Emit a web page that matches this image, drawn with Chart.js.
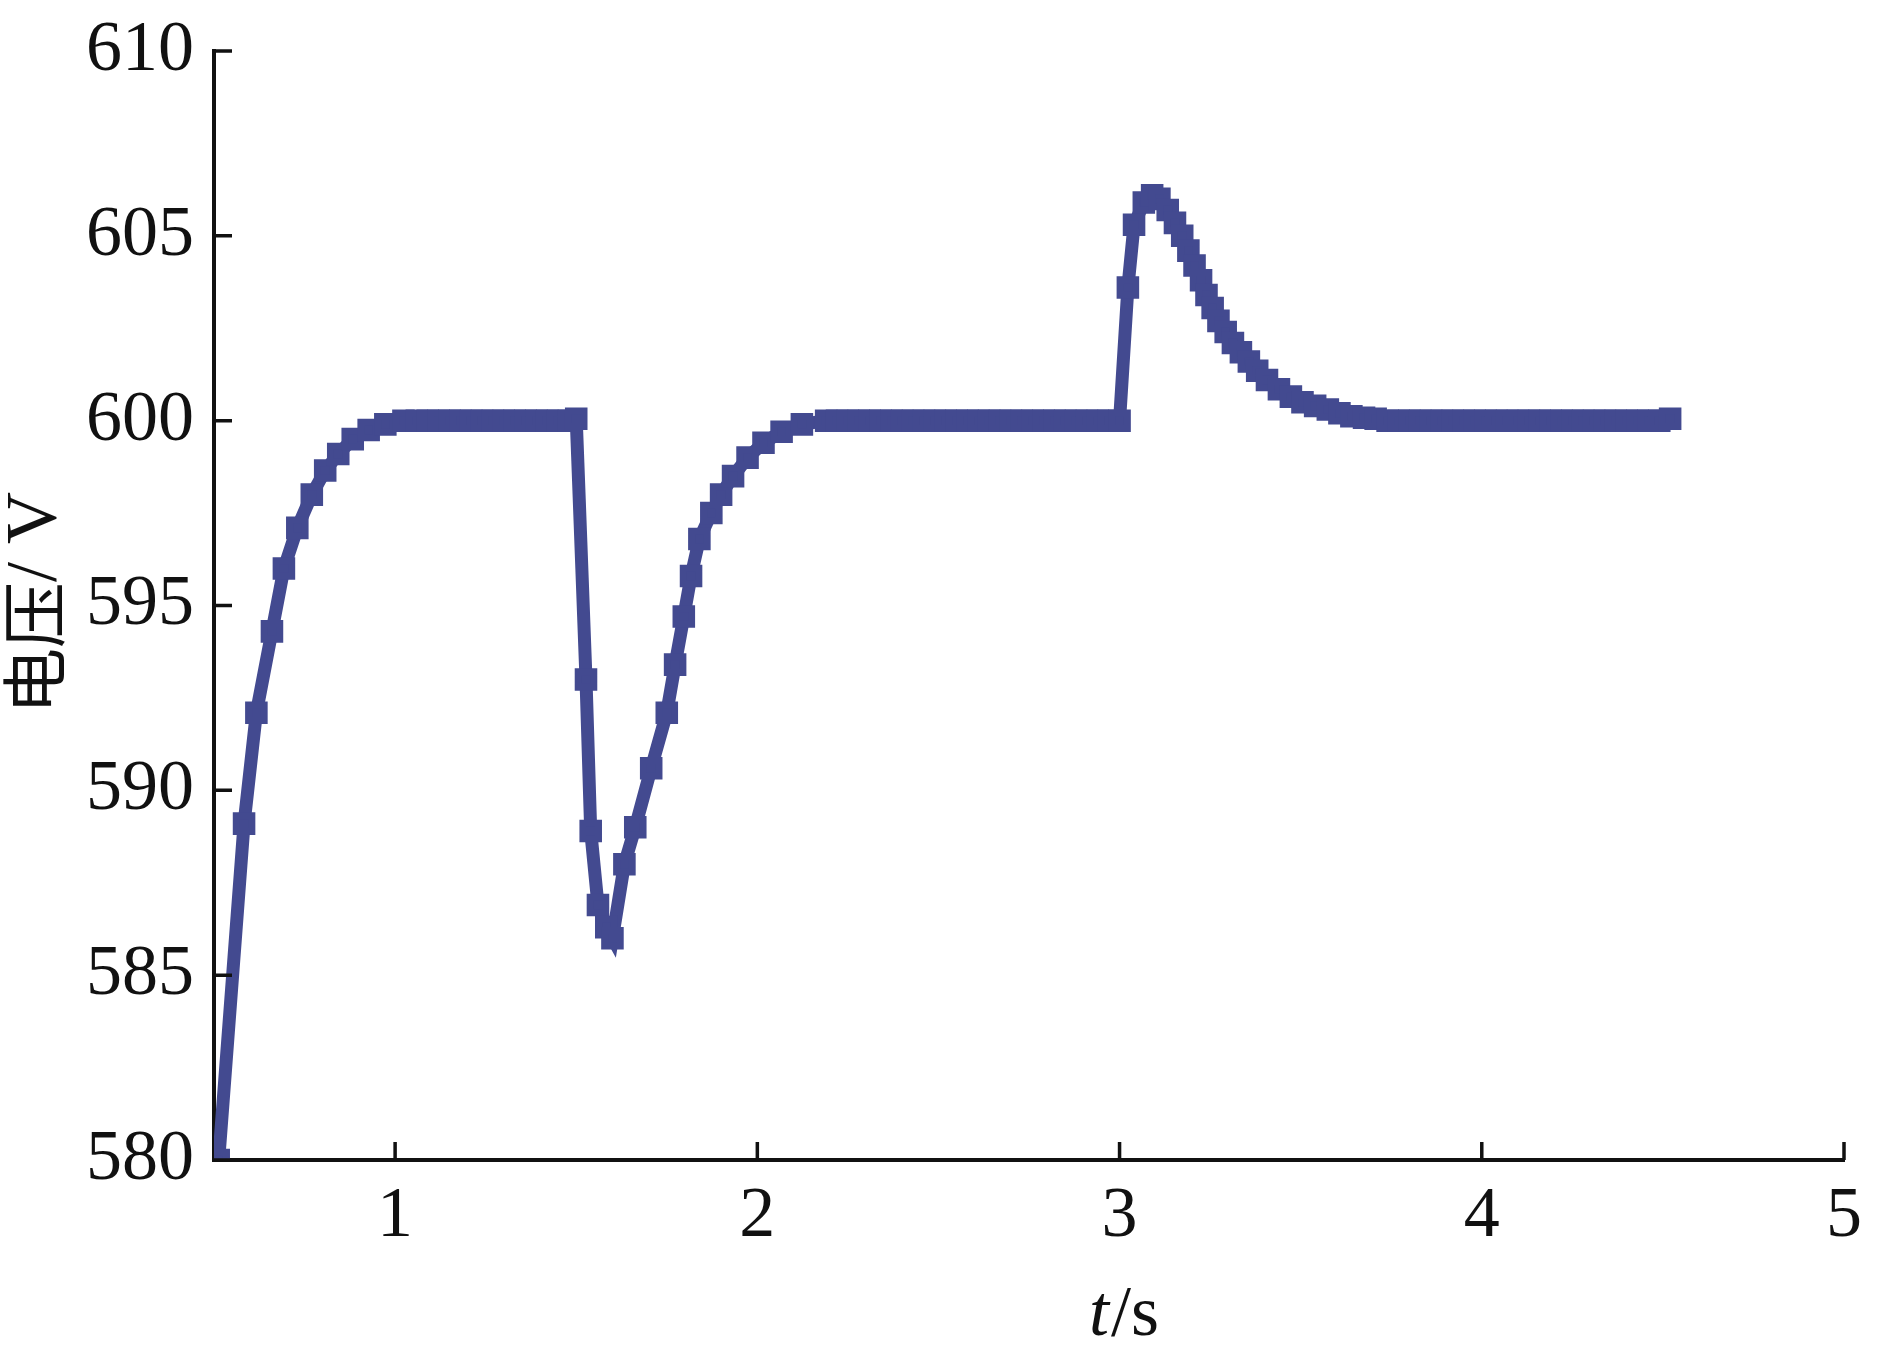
<!DOCTYPE html>
<html>
<head>
<meta charset="utf-8">
<script src="https://cdn.jsdelivr.net/npm/chart.js@4.4.1/dist/chart.umd.min.js"></script>
<style>
  html, body { margin: 0; padding: 0; background: #fff; }
  #wrap { width: 1890px; height: 1366px; position: relative; }
</style>
</head>
<body>
<div id="wrap"><canvas id="myChart"></canvas></div>
<script>
// start-up rise
const riseT = [0.513, 0.583, 0.617, 0.66, 0.693, 0.73, 0.77, 0.807, 0.843, 0.883, 0.927, 0.973, 1.023];
const riseV = [580.0, 589.1, 592.1, 594.3, 596.0, 597.1, 598.0, 598.65, 599.1, 599.5, 599.75, 599.9, 600.0];
// steady 600 V
const flat1T = [1.06, 1.09, 1.12, 1.15, 1.18, 1.21, 1.24, 1.27, 1.30, 1.33, 1.36, 1.39, 1.42, 1.45, 1.48, 1.50];
const flat1V = [600, 600, 600, 600, 600, 600, 600, 600, 600, 600, 600, 600, 600, 600, 600, 600.05];
// load step -> dip
const dipT = [1.527, 1.54, 1.56, 1.583, 1.60, 1.633, 1.663, 1.707, 1.75, 1.773, 1.797, 1.817, 1.84, 1.873, 1.90, 1.933, 1.973, 2.017, 2.067, 2.123, 2.19];
const dipV = [593.0, 588.9, 586.9, 586.3, 586.0, 588.0, 589.0, 590.6, 592.1, 593.4, 594.7, 595.8, 596.8, 597.5, 598.0, 598.5, 599.0, 599.4, 599.7, 599.9, 600.0];
const flat2T = [2.22, 2.25, 2.28, 2.31, 2.34, 2.37, 2.40, 2.43, 2.46, 2.49, 2.52, 2.55, 2.58, 2.61, 2.64, 2.67, 2.70, 2.73, 2.76, 2.79, 2.82, 2.85, 2.88, 2.91, 2.94, 2.97, 3.0];
const flat2V = [600, 600, 600, 600, 600, 600, 600, 600, 600, 600, 600, 600, 600, 600, 600, 600, 600, 600, 600, 600, 600, 600, 600, 600, 600, 600, 600];
// load drop -> overshoot
const spikeT = [3.023, 3.04, 3.067, 3.09, 3.11, 3.133, 3.153, 3.173, 3.19, 3.207, 3.225, 3.24, 3.257, 3.273, 3.293, 3.313, 3.335, 3.357, 3.38, 3.407, 3.44, 3.473, 3.505, 3.54, 3.575, 3.607, 3.64, 3.675, 3.707];
const spikeV = [603.6, 605.3, 605.9, 606.1, 606.0, 605.7, 605.35, 605.0, 604.6, 604.2, 603.8, 603.4, 603.05, 602.7, 602.4, 602.1, 601.85, 601.6, 601.35, 601.1, 600.85, 600.65, 600.5, 600.4, 600.3, 600.2, 600.12, 600.08, 600.05];
const flat3T = [3.74, 3.77, 3.80, 3.83, 3.86, 3.89, 3.92, 3.95, 3.98, 4.01, 4.04, 4.07, 4.10, 4.13, 4.16, 4.19, 4.22, 4.25, 4.28, 4.31, 4.34, 4.37, 4.40, 4.43, 4.46, 4.49, 4.52];
const flat3V = [600, 600, 600, 600, 600, 600, 600, 600, 600, 600, 600, 600, 600, 600, 600, 600, 600, 600, 600, 600, 600, 600, 600, 600, 600, 600, 600.05];

const xTicks = [1, 2, 3, 4, 5];
const yTicks = [580, 585, 590, 595, 600, 605, 610];

const allT = [].concat(riseT, flat1T, dipT, flat2T, spikeT, flat3T);
const allV = [].concat(riseV, flat1V, dipV, flat2V, spikeV, flat3V);
const points = allT.map((t, i) => ({ x: t, y: allV[i] }));

const lineColor = '#434A90';
const serif = '"Liberation Serif", "Times New Roman", Times, serif';

const inwardTicks = {
  id: 'inwardTicks',
  afterDraw(chart) {
    const ctx = chart.ctx;
    const xs = chart.scales.x, ys = chart.scales.y;
    const area = chart.chartArea;
    ctx.save();
    ctx.strokeStyle = '#111';
    ctx.lineWidth = 3.5;
    ctx.beginPath();
    xTicks.forEach(v => {
      const px = xs.getPixelForValue(v);
      ctx.moveTo(px, area.bottom);
      ctx.lineTo(px, area.bottom - 18);
    });
    yTicks.forEach(v => {
      const py = ys.getPixelForValue(v);
      ctx.moveTo(area.left, py);
      ctx.lineTo(area.left + 18, py);
    });
    ctx.stroke();

    // axis titles
    ctx.fillStyle = '#111';
    ctx.textBaseline = 'middle';
    const fItal = 'italic 72px ' + serif, fReg = '72px ' + serif;
    ctx.font = fItal; const wT = ctx.measureText('t').width;
    ctx.font = fReg; const wS = ctx.measureText('/s').width;
    let x0 = 1123 - (wT + wS) / 2;
    ctx.textAlign = 'left';
    ctx.font = fItal; ctx.fillText('t', x0, 1316);
    ctx.font = fReg; ctx.fillText('/s', x0 + wT + 2, 1316);

    ctx.translate(34, 603);
    ctx.rotate(-Math.PI / 2);
    const fCjk = '66px "Noto Sans CJK SC", sans-serif', fV = '72px ' + serif;
    ctx.font = fCjk; const wC = ctx.measureText('电压').width;
    ctx.font = fV; const wV = ctx.measureText('/ V').width;
    x0 = -(wC + wV) / 2;
    ctx.font = fCjk; ctx.fillText('电压', x0, 0);
    ctx.font = fV; ctx.fillText('/ V', x0 + wC, 2);
    ctx.restore();
  }
};

function draw() {
  new Chart(document.getElementById('myChart'), {
    type: 'line',
    data: {
      datasets: [{
        data: points,
        borderColor: lineColor,
        backgroundColor: lineColor,
        borderWidth: 13,
        pointStyle: 'rect',
        pointRadius: 11,
        pointBorderWidth: 7,
        pointBackgroundColor: lineColor,
        pointBorderColor: lineColor,
        tension: 0,
        fill: false
      }]
    },
    options: {
      responsive: true,
      maintainAspectRatio: false,
      animation: false,
      layout: { padding: { left: 0, top: 51, right: 46, bottom: 0 } },
      plugins: { legend: { display: false }, tooltip: { enabled: false } },
      scales: {
        x: {
          type: 'linear',
          min: 0.5,
          max: 5,
          afterBuildTicks: s => { s.ticks = xTicks.map(v => ({ value: v })); },
          afterFit: s => { s.height = 206; s.paddingLeft = 0; s.paddingRight = 0; },
          grid: { display: true, drawOnChartArea: false, drawTicks: false },
          border: { display: true, color: '#111', width: 4 },
          ticks: { padding: 14, color: '#111', font: { family: serif, size: 72 }, maxRotation: 0 }
        },
        y: {
          min: 580,
          max: 610,
          afterBuildTicks: s => { s.ticks = yTicks.map(v => ({ value: v })); },
          afterFit: s => { s.width = 214; s.paddingTop = 0; s.paddingBottom = 0; },
          grid: { display: true, drawOnChartArea: false, drawTicks: false },
          border: { display: true, color: '#111', width: 4 },
          ticks: { padding: 20, color: '#111', font: { family: serif, size: 72 } }
        }
      }
    },
    plugins: [inwardTicks]
  });
}

Promise.all([
  document.fonts.load('72px "Liberation Serif"'),
  document.fonts.load('italic 72px "Liberation Serif"'),
  document.fonts.load('66px "Noto Sans CJK SC"', '电压')
]).then(draw, draw);
</script>
</body>
</html>
